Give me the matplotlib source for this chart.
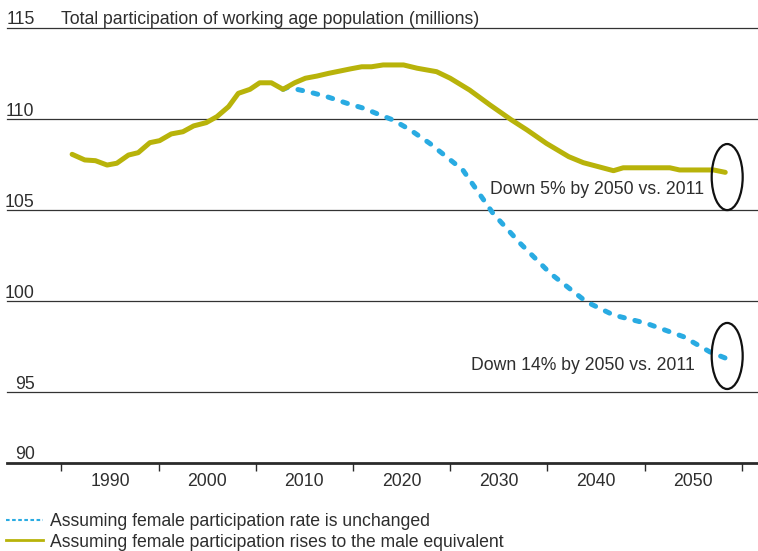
import matplotlib
matplotlib.use("Agg")
import matplotlib.pyplot as plt
from matplotlib.patches import Ellipse
from matplotlib.lines import Line2D
import matplotlib.transforms as mtransforms

plt.rcParams['font.family'] = ['Liberation Sans', 'DejaVu Sans']
plt.rcParams['lines.scale_dashes'] = False

# ---- data ----
male_equiv_years = [1986.1, 1987.4, 1988.5, 1989.7, 1990.7, 1991.9, 1992.9, 1994.1, 1995.1, 1996.3,
                    1997.5, 1998.6, 1999.9, 2001.0, 2002.2, 2003.2, 2004.4, 2005.4, 2006.6, 2007.8,
                    2009.0, 2010.1, 2011.3, 2012.5, 2013.7, 2014.7, 2015.9, 2016.9, 2018.1, 2020.2,
                    2021.6, 2023.6, 2025.0, 2027.0, 2029.1, 2031.3, 2032.9, 2034.9, 2037.2, 2038.7,
                    2041.8, 2042.8, 2047.6, 2048.6, 2052.1, 2053.3]
male_equiv_values = [108.06, 107.75, 107.71, 107.47, 107.57, 108.02, 108.15, 108.70, 108.81, 109.18,
                     109.30, 109.62, 109.80, 110.13, 110.68, 111.41, 111.63, 111.99, 111.99, 111.63,
                     111.99, 112.24, 112.36, 112.51, 112.64, 112.75, 112.87, 112.87, 112.97, 112.97,
                     112.79, 112.60, 112.24, 111.59, 110.77, 109.95, 109.40, 108.66, 107.93, 107.60,
                     107.16, 107.32, 107.32, 107.20, 107.20, 107.07]

unchanged_years = [2007.8, 2008.3, 2010.6, 2012.3, 2014.4, 2016.1, 2017.8, 2019.1, 2020.9, 2022.9,
                   2024.6, 2026.3, 2029.4, 2032.2, 2035.3, 2039.0, 2041.8, 2045.2, 2049.0, 2051.7,
                   2053.8]
unchanged_values = [111.63, 111.74, 111.47, 111.23, 110.86, 110.59, 110.22, 109.95, 109.40, 108.66,
                    107.93, 107.20, 104.82, 103.17, 101.52, 99.96, 99.23, 98.77, 98.04, 97.21,
                    96.76]

series_labels = ["Assuming female participation rate is unchanged",
                 "Assuming female participation rises to the male equivalent"]
x_label_years = [1990, 2000, 2010, 2020, 2030, 2040, 2050]
x_tick_years = [1985, 1995, 2005, 2015, 2025, 2035, 2045, 2055]
y_grid_values = [95, 100, 105, 110, 115]
y_labels = ["90", "95", "100", "105", "110", "115"]
title = "Total participation of working age population (millions)"
notes = ["Down 5% by 2050 vs. 2011", "Down 14% by 2050 vs. 2011"]
note_positions = [(2051.1, 105.88), (2050.2, 96.21)]
circle_centers = [(2053.5, 106.81), (2053.5, 96.98)]

# ---- style ----
YELLOW = '#b8b30a'
BLUE = '#29abe2'
TEXT = '#2e2e2e'
FS = 12.7

fig = plt.figure(figsize=(7.58, 5.51), dpi=100)
ax = fig.add_axes([7/758, 88/551, 751/758, 435/551])
ybottom = 91.1
ax.set_xlim(1979.4, 2056.67)
ax.set_ylim(ybottom, 115)

for s in ['top', 'right', 'left']:
    ax.spines[s].set_visible(False)
ax.spines['bottom'].set_color('#2a2a2a')
ax.spines['bottom'].set_linewidth(2.0)

for v in y_grid_values:
    ax.axhline(v, color='#333333', lw=0.9, clip_on=False, zorder=1)

# y labels (right aligned, sitting above the gridline)
ylab_trans = mtransforms.blended_transform_factory(ax.transAxes, ax.transData) + \
    mtransforms.ScaledTranslation(0, 3.5/100, fig.dpi_scale_trans)
for val, lab in zip([ybottom] + y_grid_values, y_labels):
    ax.text(27.5/751, val, lab, transform=ylab_trans, ha='right', va='baseline',
            fontsize=FS, color=TEXT)
ax.text(54/751, 115, title, transform=ylab_trans, ha='left', va='baseline',
        fontsize=FS, color=TEXT)

# x ticks
ax.set_yticks([])
ax.set_xticks(x_tick_years)
ax.set_xticklabels([])
ax.tick_params(axis='x', which='major', length=5.5, width=1.0, color='#2a2a2a', direction='out')
ax.set_xticks(x_label_years, minor=True)
ax.set_xticklabels([str(y) for y in x_label_years], minor=True)
ax.tick_params(axis='x', which='minor', length=0, pad=7, labelsize=FS, labelcolor=TEXT)

# lines
ax.plot(unchanged_years, unchanged_values, color=BLUE, lw=3.6, dashes=(3.4, 7.8),
        dash_capstyle='round', solid_capstyle='round', zorder=3)
ax.plot(male_equiv_years, male_equiv_values, color=YELLOW, lw=3.6,
        solid_capstyle='round', solid_joinstyle='round', zorder=4)

# circles
for (cx, cy) in circle_centers:
    ax.add_patch(Ellipse((cx, cy), 3.19, 3.63, fill=False, edgecolor='#111111', lw=1.6,
                         zorder=5, clip_on=False))

for txt, (nx, ny) in zip(notes, note_positions):
    ax.text(nx, ny, txt, ha='right', va='baseline', fontsize=FS, color=TEXT, zorder=6)

# legend
handles = [Line2D([], [], color=BLUE, lw=1.5, dashes=(2.6, 1.8)),
           Line2D([], [], color=YELLOW, lw=2.0)]
leg = fig.legend(handles, series_labels, loc='upper left',
                 bbox_to_anchor=(6/758, 1 - 513/551), frameon=False, fontsize=FS,
                 handlelength=2.1, handletextpad=0.4, labelspacing=0.2,
                 borderpad=0, borderaxespad=0)
for t in leg.get_texts():
    t.set_color(TEXT)

fig.savefig('out.png', dpi=100)
